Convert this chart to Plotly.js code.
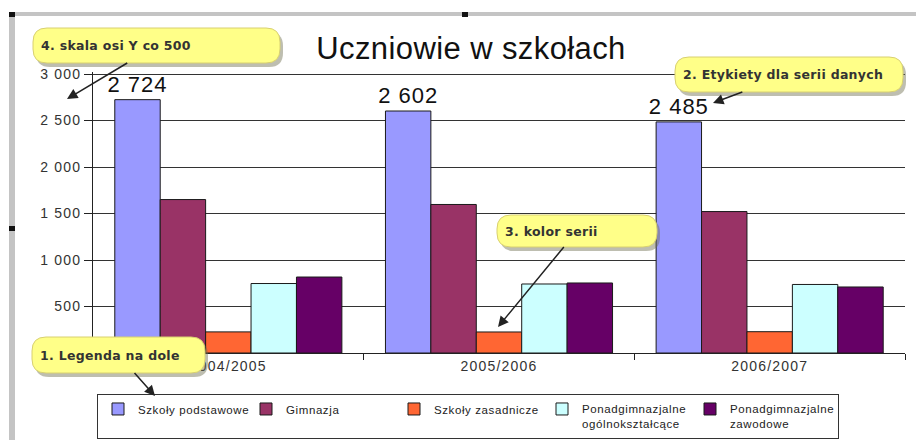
<!DOCTYPE html>
<html>
<head>
<meta charset="utf-8">
<script src="https://cdn.plot.ly/plotly-3.0.1.min.js"></script>
<style>
  html, body { margin: 0; padding: 0; background: #fff; }
  #chart { width: 916px; height: 440px; }
  .xtick text, .ytick text { letter-spacing: 1.2px; }
  .legendtext { letter-spacing: 0.6px; }
  .bartext { letter-spacing: 1px; }
  .gtitle { letter-spacing: 0.4px; }
  .annotation-text { letter-spacing: 0.3px; }
</style>
</head>
<body>
<div id="chart"></div>
<script>
// ---- data ----
const categories = ['2004/2005', '2005/2006', '2006/2007'];
const seriesNames = ['Szkoły podstawowe', 'Gimnazja', 'Szkoły zasadnicze',
  'Ponadgimnazjalne<br>ogólnokształcące', 'Ponadgimnazjalne<br>zawodowe'];
const podstawowe = [2724, 2602, 2485];
const gimnazja = [1650, 1597, 1521];
const zasadnicze = [227, 226, 229];
const ogolnoksztalcace = [747, 742, 737];
const zawodowe = [817, 753, 710];
const yTicks = [500, 1000, 1500, 2000, 2500, 3000];

// ---- styles ----
const seriesValues = [podstawowe, gimnazja, zasadnicze, ogolnoksztalcace, zawodowe];
const seriesColors = ['#9999FF', '#993366', '#FF6633', '#CCFFFF', '#660066'];

const traces = seriesValues.map((vals, i) => ({
  type: 'bar',
  name: seriesNames[i],
  x: categories,
  y: vals,
  marker: { color: seriesColors[i], line: { color: '#1a1a1a', width: 1 } },
  text: i === 0 ? vals : undefined,
  texttemplate: i === 0 ? '%{y:,d}' : undefined,
  textposition: i === 0 ? 'outside' : 'none',
  textfont: { size: 22, color: '#111', family: 'Liberation Sans, Arial, sans-serif' },
  constraintext: 'none',
  cliponaxis: false,
  hoverinfo: 'skip'
}));

// plot-area geometry in px (for converting overlay positions)
const L = 93, R = 11, T = 72, B = 87, W = 916, H = 440;
const PW = W - L - R, PH = H - T - B;
const px = p => (p - L) / PW;
const py = p => (H - B - p) / PH;
// y range chosen so that 3000 sits at pixel row 74, just inside the plot top
const yTop = 3000 * PH / (H - B - 74);

function roundRect(x0, y0, x1, y1, r) {
  const P = (a, b) => px(a) + ',' + py(b);
  return 'M' + P(x0 + r, y0) + ' L' + P(x1 - r, y0) + ' Q' + P(x1, y0) + ' ' + P(x1, y0 + r) +
    ' L' + P(x1, y1 - r) + ' Q' + P(x1, y1) + ' ' + P(x1 - r, y1) +
    ' L' + P(x0 + r, y1) + ' Q' + P(x0, y1) + ' ' + P(x0, y1 - r) +
    ' L' + P(x0, y0 + r) + ' Q' + P(x0, y0) + ' ' + P(x0 + r, y0) + ' Z';
}

const callouts = [
  { text: '4. skala osi Y co 500', box: [33, 28, 280, 63], tip: [67, 99] },
  { text: '2. Etykiety dla serii danych', box: [675, 57, 903, 92], tip: [713, 103] },
  { text: '3. kolor serii', box: [497, 215, 657, 247], tip: [498, 327] },
  { text: '1. Legenda na dole', box: [32, 337, 205, 373], tip: [155, 396] }
];

const shapes = [];
function rectPx(x0, y0, x1, y1, color) {
  shapes.push({ type: 'rect', xref: 'paper', yref: 'paper', layer: 'above',
    x0: px(x0), x1: px(x1), y0: py(y1), y1: py(y0),
    fillcolor: color, line: { width: 0 } });
}
// window frame (gray bars and black handles)
rectPx(9, 12, 916, 16, '#c4c4c4');
rectPx(9, 12, 15, 440, '#c4c4c4');
rectPx(9, 12, 15, 17, '#111');
rectPx(462, 12, 468, 17, '#111');
rectPx(9, 226, 15, 231, '#111');

const annotations = [];
const PAD = 8;
callouts.forEach(c => {
  const [x0, y0, x1, y1] = c.box;
  shapes.push({ type: 'path', xref: 'paper', yref: 'paper', layer: 'above',
    path: roundRect(x0 + 3, y0 + 4, x1 + 3, y1 + 4, 14),
    fillcolor: 'rgba(110,110,80,0.45)', line: { width: 0 } });
  shapes.push({ type: 'path', xref: 'paper', yref: 'paper', layer: 'above',
    path: roundRect(x0, y0, x1, y1, 14),
    fillcolor: '#FFFF88', line: { color: '#d8d070', width: 1 } });
  const cx = (x0 + x1) / 2, cy = (y0 + y1) / 2;
  annotations.push({
    xref: 'paper', yref: 'paper', x: px(c.tip[0]), y: py(c.tip[1]),
    ax: cx - c.tip[0], ay: cy - c.tip[1],
    showarrow: true, arrowhead: 2, arrowsize: 1.4, arrowwidth: 1.5, arrowcolor: '#222',
    text: '<b>' + c.text + '</b>',
    font: { size: 12.5, color: '#333', family: 'DejaVu Sans, Verdana, sans-serif' },
    align: 'left',
    width: x1 - x0 - 2 * PAD, height: y1 - y0 - 2 * PAD, borderpad: PAD, borderwidth: 0,
    bgcolor: 'rgba(0,0,0,0)'
  });
});

const layout = {
  width: W, height: H,
  margin: { l: L, r: R, t: T, b: B, pad: 0, autoexpand: false },
  paper_bgcolor: '#fff', plot_bgcolor: '#fff',
  separators: ', ',
  font: { family: 'Liberation Sans, Arial, sans-serif', color: '#333' },
  title: {
    text: 'Uczniowie w szkołach',
    font: { size: 31, color: '#111' },
    xref: 'container', x: 471 / W, xanchor: 'center',
    yref: 'container', y: 1 - 48 / H, yanchor: 'middle'
  },
  barmode: 'group', bargap: 0.161, bargroupgap: 0,
  xaxis: {
    type: 'category', tickson: 'boundaries', ticks: 'outside', ticklen: 6,
    tickcolor: '#222', showline: true, linecolor: '#222', linewidth: 1,
    showgrid: false, tickfont: { size: 14, color: '#333' }, fixedrange: true
  },
  yaxis: {
    range: [0, yTop], tickmode: 'array', tickvals: yTicks, tickformat: ',d',
    ticks: 'outside', ticklen: 8, tickcolor: '#222',
    showline: true, linecolor: '#222', linewidth: 1,
    showgrid: true, gridcolor: '#333', gridwidth: 1, zeroline: false,
    tickfont: { size: 14, color: '#333' }, fixedrange: true
  },
  showlegend: true,
  legend: {
    orientation: 'h', x: px(97), xanchor: 'left', y: py(394), yanchor: 'top',
    bordercolor: '#333', borderwidth: 1, bgcolor: '#fff',
    font: { size: 11.5, color: '#222' }, entrywidth: 103, valign: 'top', traceorder: 'normal'
  },
  shapes: shapes,
  annotations: annotations
};

Plotly.newPlot('chart', traces, layout, { displayModeBar: false, staticPlot: true });
</script>
</body>
</html>
